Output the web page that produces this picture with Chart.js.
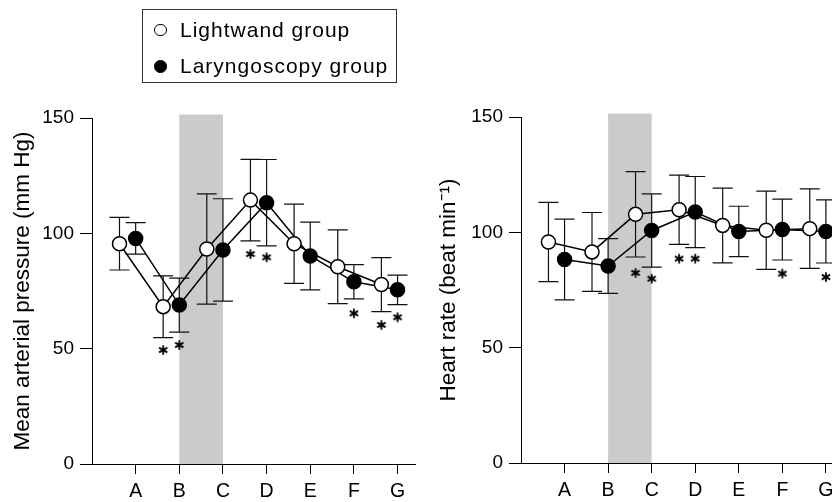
<!DOCTYPE html>
<html>
<head>
<meta charset="utf-8">
<script src="https://cdn.jsdelivr.net/npm/chart.js@4.4.1/dist/chart.umd.min.js"></script>
<style>
html,body{margin:0;padding:0;background:#fff;}
#wrap{position:relative;width:832px;height:502px;overflow:hidden;background:#fff;}
canvas{position:absolute;top:0;}
#c1{left:0;}
#c2{left:428px;}
#legend{position:absolute;left:142px;top:9px;width:253px;height:72px;border:1px solid #333;
  font-family:"Liberation Sans",Arial,Helvetica,sans-serif;font-size:21px;letter-spacing:1px;color:#000;}
.item{position:absolute;left:0;width:100%;height:24px;}
.mk{position:absolute;left:11px;top:5px;width:10.5px;height:10.5px;border:1.5px solid #000;border-radius:50%;background:#fff;}
.mk.filled{background:#000;}
.t{position:absolute;left:37px;top:-1px;line-height:24px;white-space:nowrap;}
</style>
</head>
<body>
<div id="wrap">
  <canvas id="c1" width="428" height="502"></canvas>
  <canvas id="c2" width="430" height="502"></canvas>
  <div id="legend">
    <div class="item" style="top:8.5px"><div class="mk"></div><span class="t">Lightwand group</span></div>
    <div class="item" style="top:45px"><div class="mk filled"></div><span class="t">Laryngoscopy group</span></div>
  </div>
</div>
<script>
// ---- data ----
const categories = ['A', 'B', 'C', 'D', 'E', 'F', 'G'];
const xTickValues = [1, 2, 3, 4, 5, 6, 7];
const yTickValues = [0, 50, 100, 150];
const shadedInterval = ['B', 'C'];
const shadeTop = 151.5;
const lightwandShift = -0.37;

const seriesNames = ['Lightwand group', 'Laryngoscopy group'];

// Mean arterial pressure (mm Hg), mean and SD
const mapLightwand      = [95.5, 68.2, 93.2, 114.4, 95.5, 85.5, 77.8];
const mapLightwandSD    = [11.4, 13.4, 23.9, 17.7, 17.2, 16.0, 11.7];
const mapLaryngoscopy   = [97.8, 68.9, 92.8, 113.3, 90.2, 79.0, 75.5];
const mapLaryngoscopySD = [6.8, 11.7, 22.2, 18.7, 14.7, 7.4, 6.4];
const mapStarLightwand    = [null, 49.4, null, 91.0, null, null, 60.3];
const mapStarLaryngoscopy = [null, 51.6, null, 89.6, null, 65.3, 63.6];

// Heart rate (beat/min), mean and SD
const hrLightwand      = [95.8, 91.5, 107.8, 109.8, 103.0, 100.9, 101.6];
const hrLightwandSD    = [17.2, 17.1, 18.5, 15.0, 16.2, 17.0, 17.2];
const hrLaryngoscopy   = [88.2, 85.4, 100.8, 108.8, 100.4, 101.2, 100.4];
const hrLaryngoscopySD = [17.5, 11.9, 15.9, 15.4, 10.9, 13.2, 13.7];
const hrStarLightwand    = [null, null, 82.4, 88.6, null, null, null];
const hrStarLaryngoscopy = [null, null, 79.9, 88.6, null, 82.1, 80.6];

// ---- drawing helpers ----
const FONT = '"Liberation Sans", Arial, Helvetica, sans-serif';

const starImg = (() => {
  const c = document.createElement('canvas');
  c.width = 12; c.height = 12;
  const g = c.getContext('2d');
  g.strokeStyle = '#000'; g.lineWidth = 1.8; g.lineCap = 'butt';
  const r = 4.8;
  [90, 30, 150].forEach(a => {
    const rad = a * Math.PI / 180;
    g.beginPath();
    g.moveTo(6 - r * Math.cos(rad), 6 - r * Math.sin(rad));
    g.lineTo(6 + r * Math.cos(rad), 6 + r * Math.sin(rad));
    g.stroke();
  });
  return c;
})();

const shadePlugin = {
  id: 'shade',
  beforeDraw(chart) {
    const {ctx, scales: {x, y}} = chart;
    const x0 = x.getPixelForValue(categories.indexOf(shadedInterval[0]) + 1);
    const x1 = x.getPixelForValue(categories.indexOf(shadedInterval[1]) + 1);
    const y0 = y.getPixelForValue(shadeTop);
    const y1 = y.getPixelForValue(0);
    ctx.save();
    ctx.fillStyle = '#cbcbcb';
    ctx.fillRect(x0, y0, x1 - x0, y1 - y0);
    ctx.restore();
  }
};

const errorBarPlugin = {
  id: 'errorBars',
  beforeDatasetsDraw(chart) {
    const {ctx, scales: {x, y}} = chart;
    ctx.save();
    ctx.strokeStyle = '#111';
    ctx.lineWidth = 1.2;
    chart.data.datasets.forEach(ds => {
      if (!ds.sd) return;
      ds.data.forEach((p, i) => {
        const px = x.getPixelForValue(p.x);
        const top = y.getPixelForValue(p.y + ds.sd[i]);
        const bot = y.getPixelForValue(p.y - ds.sd[i]);
        ctx.beginPath();
        ctx.moveTo(px, top); ctx.lineTo(px, bot);
        ctx.moveTo(px - 10, top); ctx.lineTo(px + 10, top);
        ctx.moveTo(px - 10, bot); ctx.lineTo(px + 10, bot);
        ctx.stroke();
      });
    });
    ctx.restore();
  }
};

function pts(values, shift) {
  return values.map((v, i) => ({x: xTickValues[i] + shift, y: v}));
}
function starPts(values, shift) {
  const out = [];
  values.forEach((v, i) => { if (v !== null) out.push({x: xTickValues[i] + shift, y: v}); });
  return out;
}

function makeChart(id, cfg) {
  const lineDs = (data) => ({
    data, showLine: true, pointRadius: 0, borderColor: '#000', borderWidth: 1.5,
    order: 3, clip: false
  });
  const ptDs = (label, data, sd, fill) => ({
    label, data, sd, showLine: false, pointRadius: 7, pointHoverRadius: 7,
    pointStyle: 'circle', pointBackgroundColor: fill, pointBorderColor: '#000',
    pointBorderWidth: 1.5, order: 1, clip: false
  });
  const starDs = (data) => ({
    data, showLine: false, pointStyle: starImg, pointRadius: 5, order: 0, clip: false
  });
  return new Chart(document.getElementById(id), {
    type: 'scatter',
    data: {
      datasets: [
        lineDs(pts(cfg.light, lightwandShift)),
        lineDs(pts(cfg.laryn, 0)),
        ptDs(seriesNames[0], pts(cfg.light, lightwandShift), cfg.lightSD, '#fff'),
        ptDs(seriesNames[1], pts(cfg.laryn, 0), cfg.larynSD, '#000'),
        starDs(starPts(cfg.starLight, lightwandShift)),
        starDs(starPts(cfg.starLaryn, 0))
      ]
    },
    plugins: [shadePlugin, errorBarPlugin],
    options: {
      responsive: false,
      animation: false,
      devicePixelRatio: 1,
      layout: {padding: {top: cfg.top, right: cfg.right, left: 0, bottom: 0}},
      plugins: {legend: {display: false}, tooltip: {enabled: false}},
      events: [],
      scales: {
        x: {
          type: 'linear', min: 0, max: cfg.xMax,
          afterBuildTicks: s => { s.ticks = xTickValues.map(v => ({value: v})); },
          afterFit: s => { s.height = cfg.xHeight; },
          ticks: {
            callback: v => categories[v - 1], color: '#000',
            font: {family: FONT, size: 19.5}, padding: 6, autoSkip: false, maxRotation: 0
          },
          grid: {drawOnChartArea: false, drawTicks: true, tickLength: 10, color: '#000', lineWidth: 1},
          border: {display: true, color: '#000', width: 1}
        },
        y: {
          type: 'linear', min: 0, max: 150,
          afterBuildTicks: s => { s.ticks = yTickValues.map(v => ({value: v})); },
          afterFit: s => { s.width = cfg.yWidth; },
          ticks: {color: '#000', font: {family: FONT, size: 19}, padding: 6},
          grid: {drawOnChartArea: false, drawTicks: true, tickLength: 12, color: '#000', lineWidth: 1},
          border: {display: true, color: '#000', width: 1},
          title: {
            display: true, text: cfg.title, color: '#000',
            font: {family: FONT, size: 22.5}, padding: {top: cfg.titlePad, bottom: 0}
          }
        }
      }
    }
  });
}

makeChart('c1', {
  light: mapLightwand, lightSD: mapLightwandSD,
  laryn: mapLaryngoscopy, larynSD: mapLaryngoscopySD,
  starLight: mapStarLightwand, starLaryn: mapStarLaryngoscopy,
  title: 'Mean arterial pressure (mm Hg)',
  top: 118, right: 13, xMax: 7.4, xHeight: 38, yWidth: 92, titlePad: 9.5
});

makeChart('c2', {
  light: hrLightwand, lightSD: hrLightwandSD,
  laryn: hrLaryngoscopy, larynSD: hrLaryngoscopySD,
  starLight: hrStarLightwand, starLaryn: hrStarLaryngoscopy,
  title: 'Heart rate (beat min\u207B\u00B9)',
  top: 117, right: 26, xMax: 7.14, xHeight: 39, yWidth: 93, titlePad: 7.5
});
</script>
</body>
</html>
